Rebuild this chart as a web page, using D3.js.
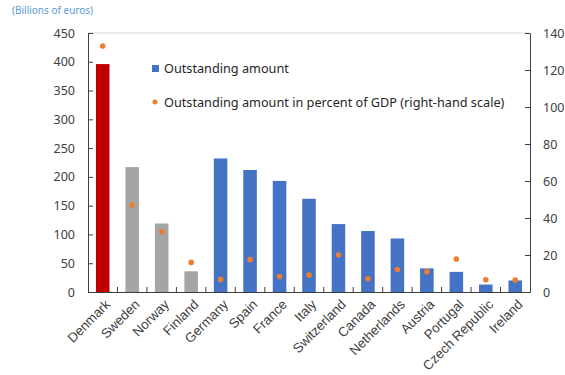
<!DOCTYPE html>
<html><head><meta charset="utf-8">
<script src="https://cdn.jsdelivr.net/npm/d3@7"></script>
<style>
html,body{margin:0;padding:0;background:#fff;}
svg{display:block;font-family:"Noto Sans","Open Sans",sans-serif;}
</style></head>
<body><svg id="c" width="565" height="375"></svg>
<script>
const categories = ["Denmark","Sweden","Norway","Finland","Germany","Spain","France","Italy","Switzerland","Canada","Netherlands","Austria","Portugal","Czech Republic","Ireland"];
const amounts = [396, 217, 119, 36, 232, 212, 193, 162, 118, 106, 93, 41, 35, 13, 20];
const pctGDP = [133, 47, 32.6, 16, 6.8, 17.5, 8.4, 9.2, 20, 7.2, 12.2, 11, 17.8, 6.6, 6.5];
const barGroup = ["red","gray","gray","gray","blue","blue","blue","blue","blue","blue","blue","blue","blue","blue","blue"];
const leftTicks = [0,50,100,150,200,250,300,350,400,450];
const rightTicks = [0,20,40,60,80,100,120,140];
const subtitle = "(Billions of euros)";
const legendLabels = ["Outstanding amount","Outstanding amount in percent of GDP (right-hand scale)"];

const colors = {red:"#C00000", gray:"#A5A5A5", blue:"#4472C4"};
const dotColor = "#ED7D31";
const svg = d3.select("#c");
const L = 88, R = 530, T = 33, B = 292;

const x = d3.scaleBand().domain(categories).range([L,R]).paddingInner(0.54).paddingOuter(0.27);
const yL = d3.scaleLinear().domain([0,450]).range([B,T]);
const yR = d3.scaleLinear().domain([0,140]).range([B,T]);

svg.append("text").attr("x",12).attr("y",14).attr("fill","#5B9BD5").attr("font-size",10).text(subtitle);

// top border
svg.append("line").attr("x1",L).attr("x2",R).attr("y1",T).attr("y2",T).attr("stroke","#D9D9D9");

// bars
svg.append("g").selectAll("rect").data(categories).join("rect")
  .attr("x",d=>x(d)).attr("width",x.bandwidth())
  .attr("y",(d,i)=>yL(amounts[i])).attr("height",(d,i)=>B-yL(amounts[i]))
  .attr("fill",(d,i)=>colors[barGroup[i]]);

// dots
svg.append("g").selectAll("circle").data(categories).join("circle")
  .attr("cx",d=>x(d)+x.bandwidth()/2).attr("cy",(d,i)=>yR(pctGDP[i])).attr("r",2.8)
  .attr("fill",dotColor);

// left axis
const gl = svg.append("g").attr("transform",`translate(${L},0)`)
  .call(d3.axisLeft(yL).tickValues(leftTicks).tickSizeInner(-5).tickSizeOuter(0).tickPadding(13));
gl.select(".domain").attr("stroke","#404040");
gl.selectAll(".tick line").attr("stroke","#404040");
gl.selectAll("text").attr("font-size",12.5).attr("fill","#404040").attr("font-family","Noto Sans");

// right axis
const gr = svg.append("g").attr("transform",`translate(${R},0)`)
  .call(d3.axisRight(yR).tickValues(rightTicks).tickSizeInner(-5).tickSizeOuter(0).tickPadding(13));
gr.select(".domain").attr("stroke","#404040");
gr.selectAll(".tick line").attr("stroke","#404040");
gr.selectAll("text").attr("font-size",12.5).attr("fill","#404040").attr("font-family","Noto Sans");

// bottom axis
const gb = svg.append("g").attr("transform",`translate(0,${B})`)
  .call(d3.axisBottom(x).tickSize(0).tickFormat(""));
gb.select(".domain").attr("stroke","#404040");
const bounds = d3.range(1, categories.length).map(i => L + (R-L)*i/categories.length);
gb.selectAll(".sep").data(bounds).join("line").attr("class","sep")
  .attr("x1",d=>d).attr("x2",d=>d).attr("y1",0).attr("y2",-5).attr("stroke","#404040");
gb.selectAll(".lab").data(categories).join("text").attr("class","lab")
  .attr("transform",d=>`translate(${x(d)+x.bandwidth()/2+5},${10}) rotate(-45)`)
  .attr("text-anchor","end").attr("font-size",13.3).attr("fill","#404040")
  .attr("dy","0.35em").text(d=>d);

// legend
const lg = svg.append("g");
lg.append("rect").attr("x",152).attr("y",65).attr("width",7).attr("height",7).attr("fill",colors.blue);
lg.append("text").attr("x",164).attr("y",73).attr("font-size",12.7).attr("fill","#262626").text(legendLabels[0]);
lg.append("circle").attr("cx",155).attr("cy",102).attr("r",2.5).attr("fill",dotColor);
lg.append("text").attr("x",164).attr("y",107).attr("font-size",12.7).attr("fill","#262626").text(legendLabels[1]);
</script></body></html>
